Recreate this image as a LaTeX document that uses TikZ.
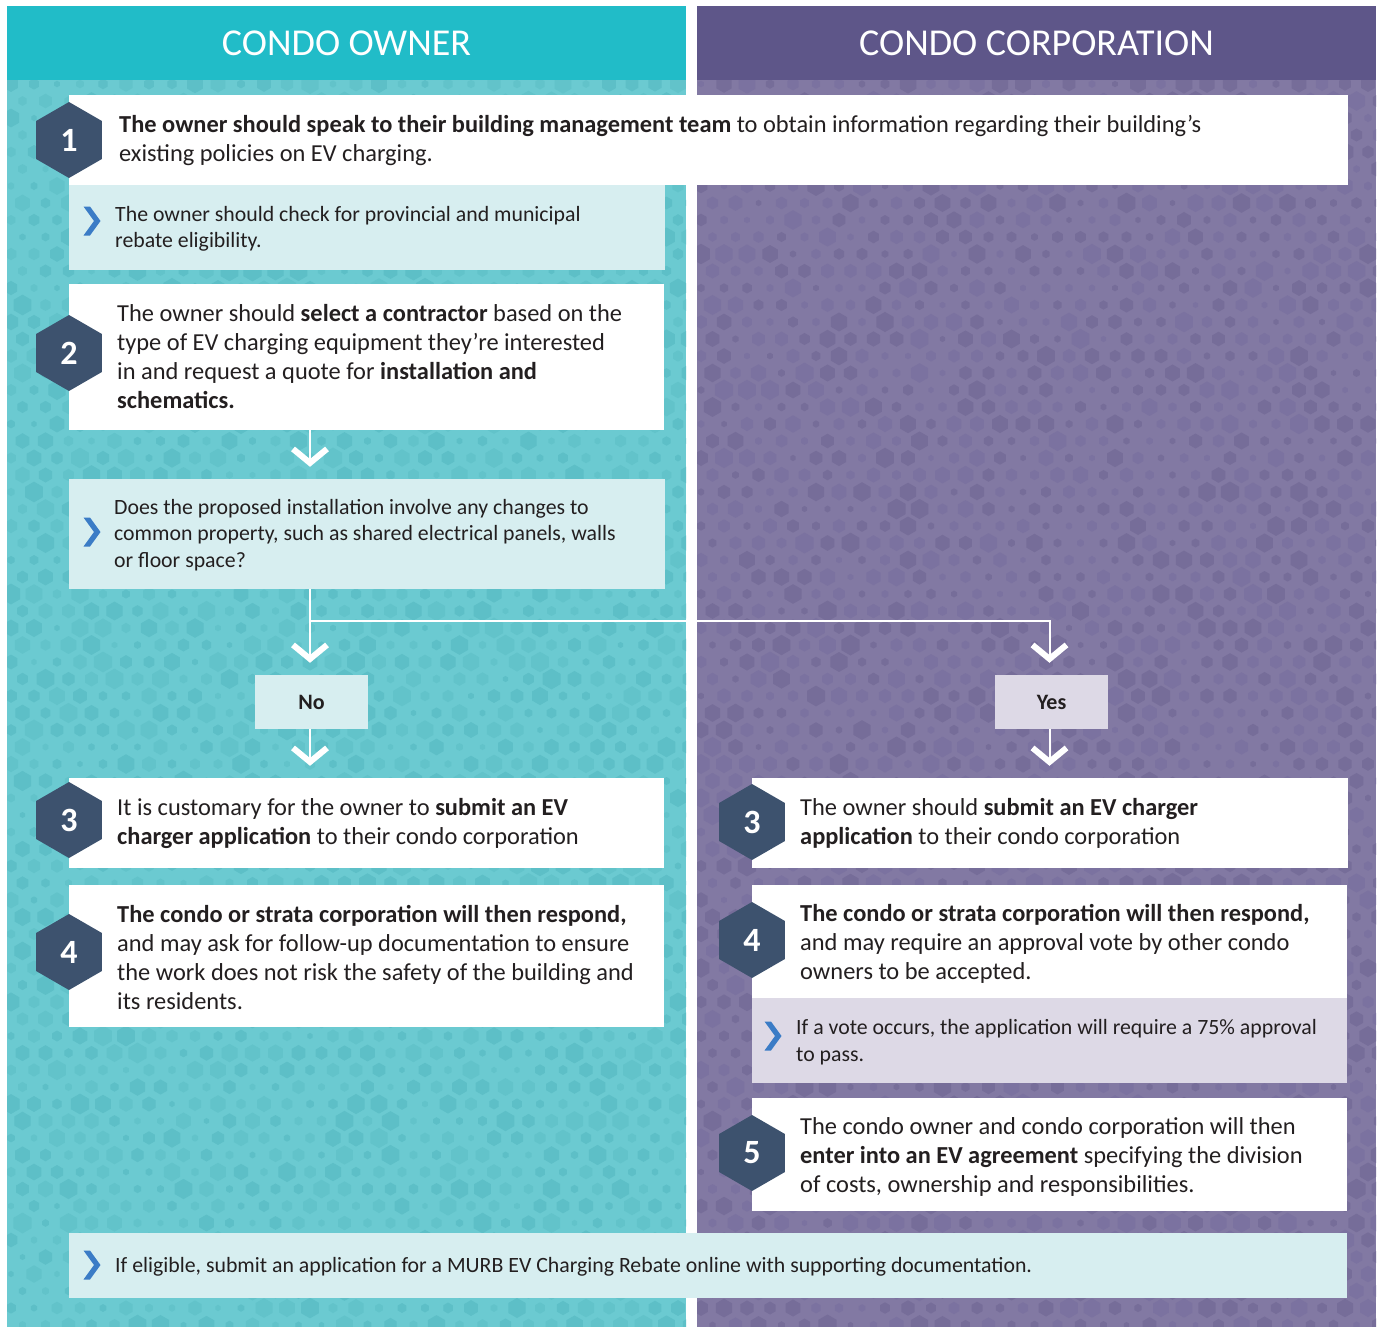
\documentclass[tikz,border=0pt]{standalone}
\usepackage{fontspec}
\setmainfont{Carlito}
\usetikzlibrary{shapes.geometric,arrows.meta}

\definecolor{tealhead}{HTML}{21BCC8}
\definecolor{tealbg}{HTML}{6BCAD1}
\definecolor{tealhexA}{HTML}{62C3CA}
\definecolor{tealhexB}{HTML}{5DBFC7}
\definecolor{purphead}{HTML}{5E5689}
\definecolor{purpbg}{HTML}{8279A3}
\definecolor{purphexA}{HTML}{7B72A0}
\definecolor{purphexB}{HTML}{766D99}
\definecolor{lightteal}{HTML}{D7EEF0}
\definecolor{lightpurp}{HTML}{DDD9E6}
\definecolor{hexnum}{HTML}{3D526E}
\definecolor{ink}{HTML}{231F20}
\definecolor{chevblue}{HTML}{3B7CC6}

\newcommand\bodyfont{\fontsize{24.4}{29}\selectfont}
\newcommand\notefont{\fontsize{21.8}{26.5}\selectfont}

% honeycomb texture for one column: #1 = left edge, #2/#3 = two shades
\newcommand\honeycomb[3]{%
  \begin{scope}
    \clip (#1,80) rectangle ({#1+679},1327);
    \foreach \row in {0,...,74} {
      \foreach \col in {0,...,30} {
        \pgfmathsetmacro{\hx}{#1 + 4 + \col*23 + mod(\row,2)*11.5}
        \pgfmathsetmacro{\hy}{84 + \row*17}
        \pgfmathsetmacro{\hr}{3 + 7.5*rnd}
        \pgfmathsetmacro{\hs}{rnd}
        \ifdim\hs pt<0.5pt \def\hc{#2}\else\def\hc{#3}\fi
        \fill[\hc] (\hx,\hy) +(90:\hr) -- +(150:\hr) -- +(210:\hr)
          -- +(270:\hr) -- +(330:\hr) -- +(30:\hr) -- cycle;
      }
    }
  \end{scope}}

\tikzset{
  box/.style={rectangle, inner sep=0pt, draw=none},
  whitebox/.style={box, fill=white},
  tealnote/.style={box, fill=lightteal},
  purpnote/.style={box, fill=lightpurp},
  steptext/.style={anchor=west, align=left, inner sep=0pt, text=ink, font=\bodyfont},
  notetext/.style={anchor=west, align=left, inner sep=0pt, text=ink, font=\notefont},
  hexnode/.style={regular polygon, regular polygon sides=6, shape border rotate=30,
    minimum size=76pt, inner sep=0pt, fill=hexnum, text=white,
    font=\fontsize{34}{34}\selectfont\bfseries},
  answer/.style={box, minimum width=113pt, minimum height=54pt, text=ink,
    font=\fontsize{22}{22}\selectfont\bfseries},
  flow/.style={draw=white, line width=2pt, shorten >=12pt,
    -{Straight Barb[length=14pt, width=34pt, line width=6pt]}},
  chev/.pic={\fill[chevblue] (-8.5,-14.5) -- (-2,-14.5) -- (8.5,0) -- (-2,14.5)
    -- (-8.5,14.5) -- (2,0) -- cycle;},
  headtext/.style={text=white, font=\fontsize{38}{38}\selectfont}
}

\begin{document}
\begin{tikzpicture}[x=1pt, y=-1pt]
\useasboundingbox (0,0) rectangle (1378,1327);
\fill[white] (0,0) rectangle (1378,1327);

% column backgrounds with texture
\fill[tealbg] (7,80) rectangle (686,1327);
\fill[purpbg] (697,80) rectangle (1376,1327);
\pgfmathsetseed{11}
\honeycomb{7}{tealhexA}{tealhexB}
\honeycomb{697}{purphexA}{purphexB}

% headers
\fill[tealhead] (7,6) rectangle (686,80);
\fill[purphead] (697,6) rectangle (1376,80);
\node[headtext] (hownr) at (346.5,43) {CONDO OWNER};
\node[headtext] (hcorp) at (1036.5,43) {CONDO CORPORATION};

% step 1
\node[whitebox, minimum width=1279pt, minimum height=90pt] (s1) at (708.5,140) {};
\node[steptext] (t1) at (119,140) {\textbf{The owner should speak to their building management team} to obtain information regarding their building’s\\existing policies on EV charging.};
\node[hexnode] (h1) at (69,140) {1};

% rebate check note
\node[tealnote, minimum width=596pt, minimum height=85pt] (n1) at (367,227.5) {};
\pic at (92,221) {chev};
\node[notetext] (tn1) at (115,229) {The owner should check for provincial and municipal\\rebate eligibility.};

% step 2
\node[whitebox, minimum width=595pt, minimum height=146pt] (s2) at (366.5,357) {};
\node[steptext] (t2) at (117,357) {The owner should \textbf{select a contractor} based on the\\type of EV charging equipment they’re interested\\in and request a quote for \textbf{installation and}\\\textbf{schematics.}};
\node[hexnode] (h2) at (69,353) {2};

% common property question
\node[tealnote, minimum width=596pt, minimum height=110pt] (q) at (367,534) {};
\pic at (92,532) {chev};
\node[notetext] (tq) at (114,535) {Does the proposed installation involve any changes to\\common property, such as shared electrical panels, walls\\or floor space?};

% answers
\node[answer, fill=lightteal] (no) at (311.5,702) {No};
\node[answer, fill=lightpurp] (yes) at (1051.5,702) {Yes};

% owner side, steps 3 and 4
\node[whitebox, minimum width=595pt, minimum height=90pt] (l3) at (366.5,823) {};
\node[steptext] (tl3) at (117,823) {It is customary for the owner to \textbf{submit an EV}\\\textbf{charger application} to their condo corporation};
\node[hexnode] (hl3) at (69,820) {3};

\node[whitebox, minimum width=595pt, minimum height=142pt] (l4) at (366.5,956) {};
\node[steptext] (tl4) at (117,958) {\textbf{The condo or strata corporation will then respond,}\\and may ask for follow-up documentation to ensure\\the work does not risk the safety of the building and\\its residents.};
\node[hexnode] (hl4) at (69,952) {4};

% corporation side, steps 3 to 5
\node[whitebox, minimum width=596pt, minimum height=90pt] (r3) at (1050,823) {};
\node[steptext] (tr3) at (800,823) {The owner should \textbf{submit an EV charger}\\\textbf{application} to their condo corporation};
\node[hexnode] (hr3) at (752,822) {3};

\node[whitebox, minimum width=595pt, minimum height=113pt] (r4) at (1049.5,941.5) {};
\node[steptext] (tr4) at (800,944) {\textbf{The condo or strata corporation will then respond,}\\and may require an approval vote by other condo\\owners to be accepted.};
\node[hexnode] (hr4) at (752,940) {4};

\node[purpnote, minimum width=595pt, minimum height=85pt] (n2) at (1049.5,1040.5) {};
\pic at (773,1036) {chev};
\node[notetext] (tn2) at (796,1042) {If a vote occurs, the application will require a 75\% approval\\to pass.};

\node[whitebox, minimum width=595pt, minimum height=113pt] (r5) at (1049.5,1154.5) {};
\node[steptext] (tr5) at (800,1157) {The condo owner and condo corporation will then\\\textbf{enter into an EV agreement} specifying the division\\of costs, ownership and responsibilities.};
\node[hexnode] (hr5) at (752,1153) {5};

% final note across both columns
\node[tealnote, minimum width=1278pt, minimum height=65pt] (fin) at (708,1265.5) {};
\pic at (92,1265) {chev};
\node[notetext] (tfin) at (115,1267) {If eligible, submit an application for a MURB EV Charging Rebate online with supporting documentation.};

% connectors
\coordinate (br) at (310,621);
\draw[flow] (s2.south -| br) -- (q.north -| br);
\draw[flow] (q.south -| br) -- (no.north -| br);
\draw[flow] (br) -| ([xshift=-2pt]yes.north);
\draw[flow] (no.south -| br) -- (l3.north -| br);
\draw[flow] ([xshift=-2pt]yes.south) -- ([xshift=-2pt]yes.south |- r3.north);
\end{tikzpicture}
\end{document}
